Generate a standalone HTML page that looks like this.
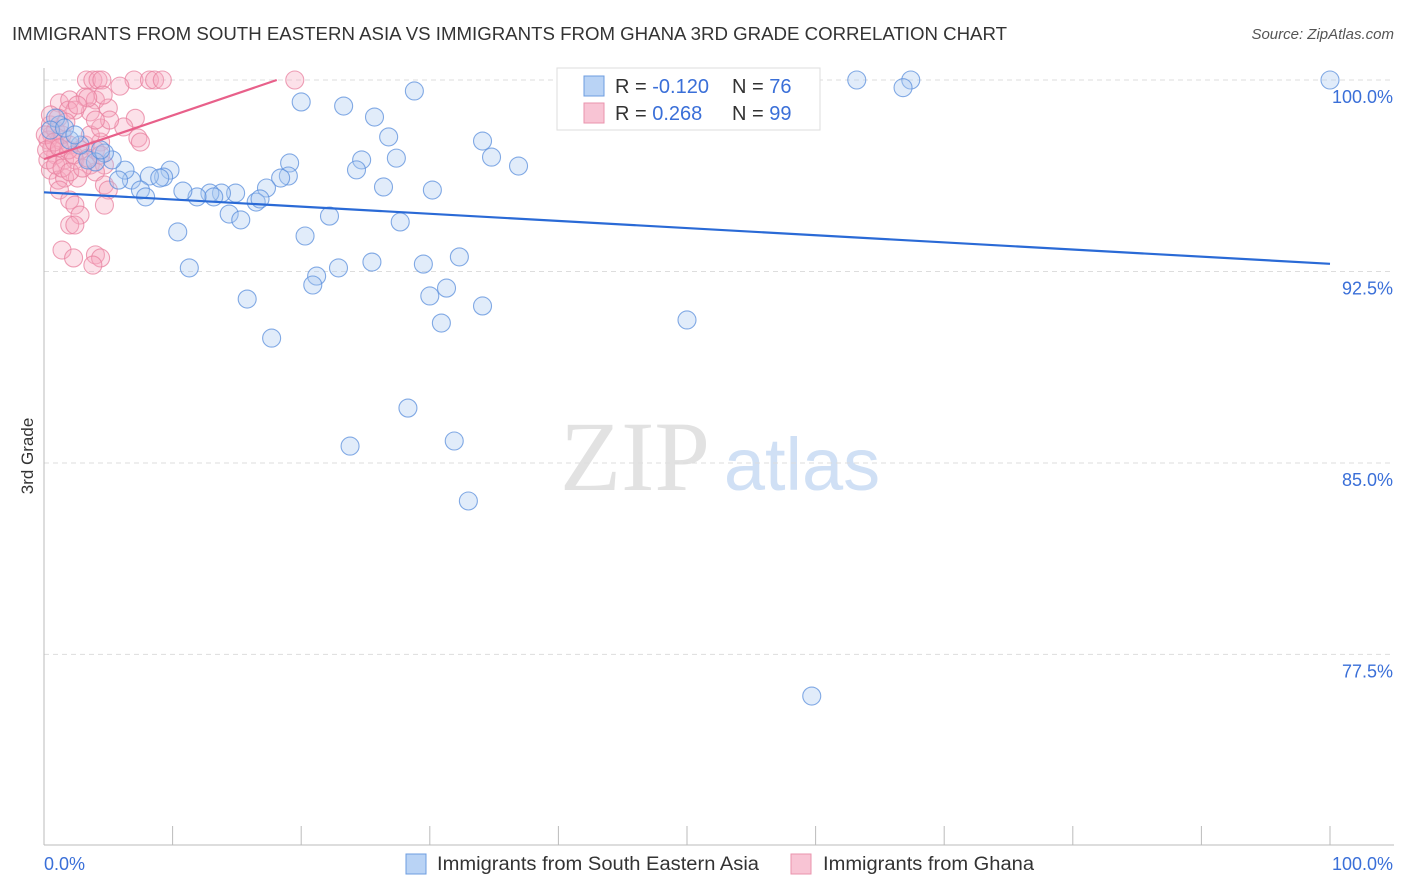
<!DOCTYPE html>
<html><head><meta charset="utf-8"><style>
body{margin:0;background:#fff;font-family:"Liberation Sans",sans-serif;}
</style></head><body>
<svg id="chart" width="1406" height="892" xmlns="http://www.w3.org/2000/svg" style="display:block">
<text x="12" y="40" font-size="18" fill="#333" textLength="995" lengthAdjust="spacingAndGlyphs">IMMIGRANTS FROM SOUTH EASTERN ASIA VS IMMIGRANTS FROM GHANA 3RD GRADE CORRELATION CHART</text>
<text x="1394" y="39" font-size="15" fill="#555" text-anchor="end" font-style="italic">Source: ZipAtlas.com</text>
<text transform="translate(33,456) rotate(-90)" font-size="17" fill="#333" text-anchor="middle">3rd Grade</text>
<g>
<text x="635" y="490" font-size="100" fill="#e2e2e2" text-anchor="middle" font-family="Liberation Serif">ZIP</text>
<text x="802" y="490" font-size="74" fill="#d0e0f5" text-anchor="middle">atlas</text>
</g>
<g id="grid"></g><g id="axes"></g><g id="pts"></g><g id="lines"></g>
<g>
<rect x="557" y="68" width="263" height="62" fill="#fff" stroke="#ddd"/>
<rect x="584" y="76" width="20" height="20" fill="#b9d3f5" stroke="#6d9de0"/>
<rect x="584" y="103" width="20" height="20" fill="#f8c4d4" stroke="#ea93ad"/>
<text x="615" y="93" font-size="20" fill="#333">R = <tspan fill="#3a6fd8">-0.120</tspan></text>
<text x="732" y="93" font-size="20" fill="#333">N = <tspan fill="#3a6fd8">76</tspan></text>
<text x="615" y="120" font-size="20" fill="#333">R = <tspan fill="#3a6fd8"> 0.268</tspan></text>
<text x="732" y="120" font-size="20" fill="#333">N = <tspan fill="#3a6fd8">99</tspan></text>
</g>
<g>
<rect x="406" y="854" width="20" height="20" fill="#b9d3f5" stroke="#6d9de0"/>
<text x="437" y="870" font-size="19" fill="#333" textLength="322" lengthAdjust="spacingAndGlyphs">Immigrants from South Eastern Asia</text>
<rect x="791" y="854" width="20" height="20" fill="#f8c4d4" stroke="#ea93ad"/>
<text x="823" y="870" font-size="19" fill="#333" textLength="211" lengthAdjust="spacingAndGlyphs">Immigrants from Ghana</text>
</g>
<text x="44" y="870" font-size="18" fill="#3a6fd8">0.0%</text>
<text x="1393" y="870" font-size="18" fill="#3a6fd8" text-anchor="end">100.0%</text>
</svg>
<script>
const yTicks=[100,92.5,85,77.5];
const yTickLabels=["100.0%","92.5%","85.0%","77.5%"];
const blueX=[43.2,63.2,67.4,66.8,100,20.0,23.3,28.8,25.7,26.8,34.1,34.8,36.9,24.7,24.3,27.4,19.1,19.0,18.4,26.4,30.2,17.3,16.5,16.8,14.9,13.8,12.9,13.2,11.9,10.8,14.4,15.3,22.2,27.7,20.3,10.4,11.3,21.2,20.9,22.9,25.5,29.5,32.3,31.3,30.0,34.1,30.9,15.8,17.7,50.0,28.3,31.9,23.8,33.0,59.7,9.8,9.3,8.2,6.8,7.5,7.9,6.3,5.3,4.7,4.0,3.4,2.8,2.0,1.2,0.9,0.5,1.6,2.4,4.4,5.8,9.0];
const blueY=[100,100,100,99.7,100,99.14,98.98,99.57,98.55,97.77,97.61,96.98,96.63,96.87,96.48,96.94,96.75,96.24,96.16,95.81,95.69,95.77,95.22,95.34,95.57,95.57,95.57,95.42,95.42,95.65,94.75,94.52,94.67,94.44,93.89,94.05,92.64,92.32,91.97,92.64,92.87,92.79,93.07,91.85,91.54,91.15,90.48,91.42,89.89,90.60,87.15,85.86,85.66,83.51,75.87,96.47,96.2,96.24,96.08,95.69,95.42,96.47,96.87,97.14,96.79,96.87,97.45,97.65,98.24,98.51,98.04,98.12,97.85,97.26,96.08,96.16];
const pinkX=[3.3,3.8,4.2,4.5,7.0,8.2,8.6,9.2,19.5,5.9,1.2,2.0,3.2,4.0,5.0,3.6,2.4,7.1,6.2,1.9,7.3,7.5,4.4,0.6,1.2,2.0,2.8,0.9,1.6,2.4,3.6,4.7,0.5,1.1,1.6,2.6,4.0,4.7,5.0,1.2,2.0,2.4,4.7,2.8,2.0,2.4,1.4,2.3,4.0,4.4,3.8,0.5,0.3,0.6,0.9,1.4,1.9,2.3,3.2,3.6,4.4,5.1,0.3,0.9,1.4,2.0,3.0,3.4,4.0,4.4,4.0,4.6,3.4,2.6,0.5,1.1,1.7,0.1,0.2,0.8,1.2];
const pinkY=[100,100,100,100,100,100,100,100,100,99.76,99.1,99.22,99.33,99.22,98.9,98.75,98.82,98.5,98.16,98.82,97.73,97.57,97.57,97.85,97.65,97.45,97.26,97.06,96.87,96.87,96.67,96.67,96.47,96.08,96.16,96.16,96.4,95.89,95.69,95.69,95.3,95.1,95.1,94.71,94.32,94.32,93.34,93.03,93.15,93.03,92.75,98.24,97.65,97.34,98.04,97.85,97.26,97.06,97.45,97.85,98.12,98.43,96.87,96.67,96.55,96.4,96.55,96.94,97.26,97.06,98.43,99.41,99.3,99.02,98.63,98.51,98.35,97.85,97.26,97.57,97.34];
const blueTrend=[0,95.6,100,92.8];
const pinkTrend=[0,96.9,18.1,100];
const NS="http://www.w3.org/2000/svg";
const X=v=>44+v*12.86;
const Y=v=>80+(100-v)*25.53;
function mk(tag,attrs,parent){const e=document.createElementNS(NS,tag);for(const k in attrs)e.setAttribute(k,attrs[k]);document.getElementById(parent).appendChild(e);return e;}
yTicks.forEach((t,i)=>{
 const g=mk('line',{x1:44,x2:1394,y1:Y(t),y2:Y(t),stroke:'#ddd','stroke-dasharray':'5,4'},'grid');
 
 
 const l=mk('text',{x:1393,y:Y(t)+23,'font-size':18,fill:'#3a6fd8','text-anchor':'end'},'grid');
 
 
 l.textContent=yTickLabels[i];
});
const ax=mk('line',{x1:44,x2:44,y1:68,y2:845,stroke:'#bbb'},'axes');


const bx=mk('line',{x1:44,x2:1394,y1:845,y2:845,stroke:'#bbb'},'axes');


for(let k=0;k<=10;k++){
 const t=mk('line',{x1:X(k*10),x2:X(k*10),y1:826,y2:845,stroke:'#bbb'},'axes');
 
 
}
function pts(xs,ys,fill,stroke,name){
 xs.forEach((x,i)=>{
  const c=mk('circle',{cx:X(x),cy:Y(ys[i]),r:9,fill:fill,'fill-opacity':0.35,stroke:stroke,'stroke-opacity':0.75,'stroke-width':1.1},'pts');
  
  
 });
}
pts(pinkX,pinkY,'#f7a8c0','#e8809f','ghana-point');
pts(blueX,blueY,'#a9c8f0','#5b8fdc','sea-point');
const bl=mk('line',{x1:X(blueTrend[0]),y1:Y(blueTrend[1]),x2:X(blueTrend[2]),y2:Y(blueTrend[3]),stroke:'#2a6ad6','stroke-width':2.2},'lines');


const pl=mk('line',{x1:X(pinkTrend[0]),y1:Y(pinkTrend[1]),x2:X(pinkTrend[2]),y2:Y(pinkTrend[3]),stroke:'#e8608a','stroke-width':2.2},'lines');


</script>
</body></html>
